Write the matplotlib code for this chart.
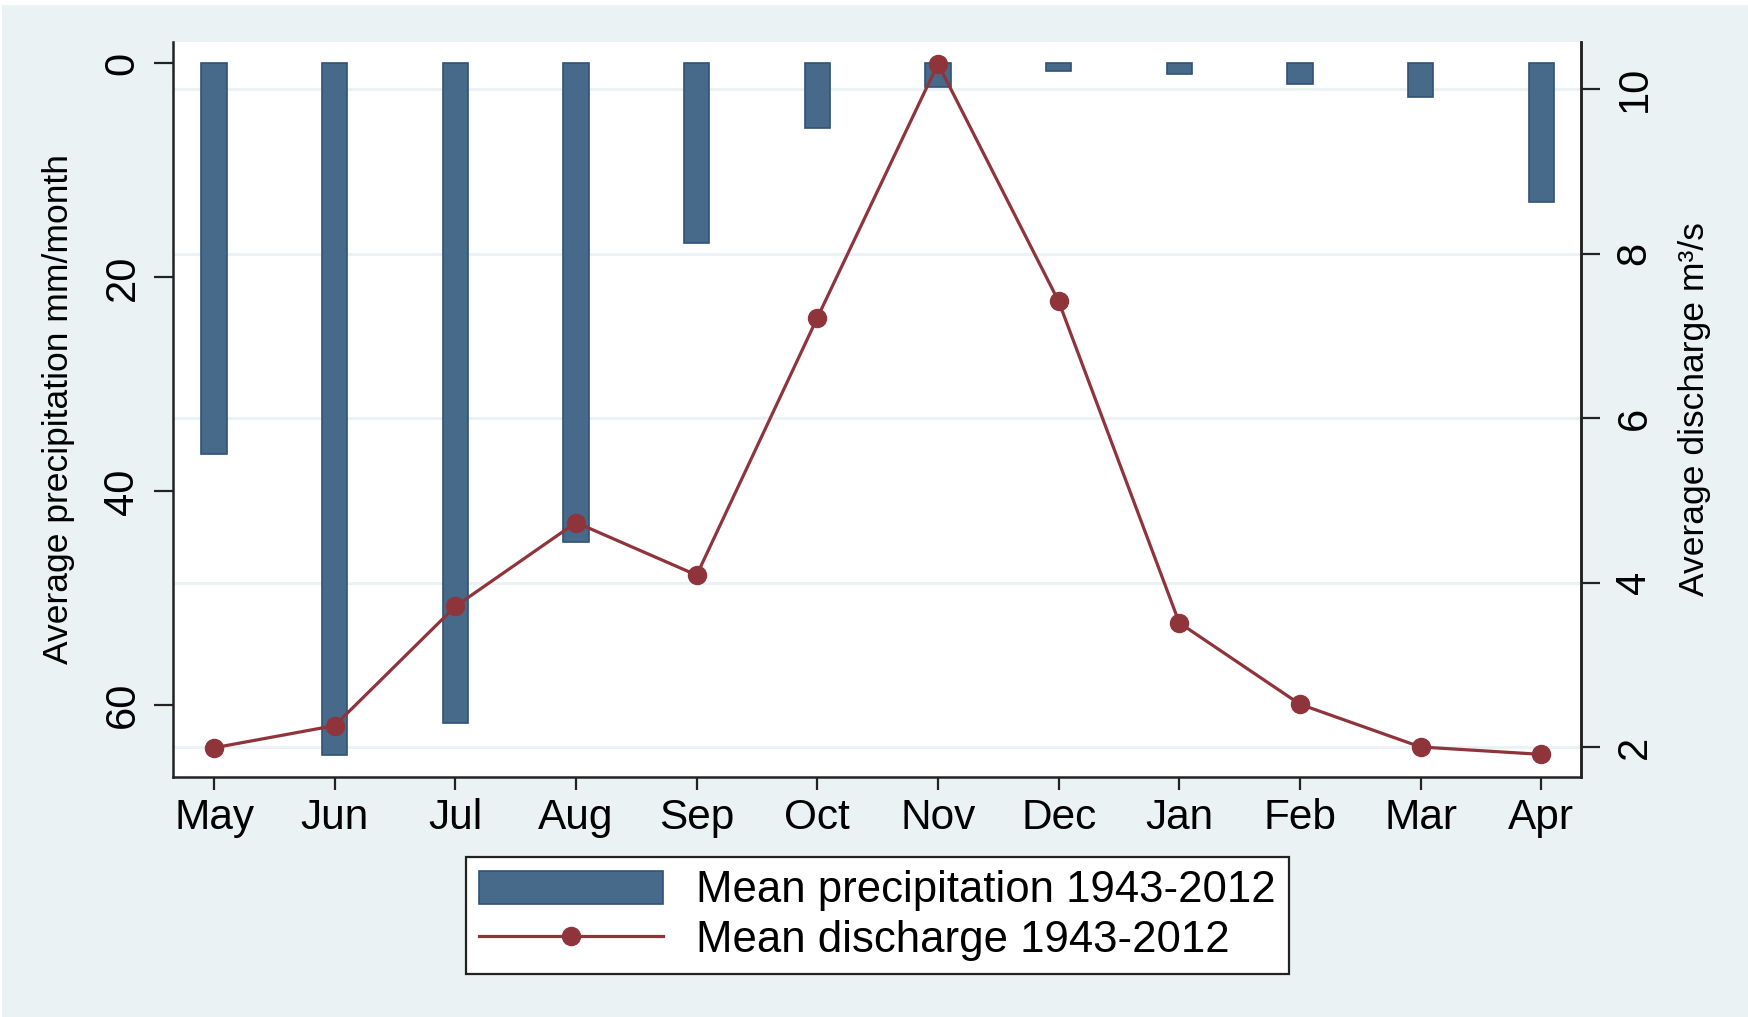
import numpy as np
import matplotlib
matplotlib.use("Agg")
import matplotlib.pyplot as plt
import matplotlib.transforms as mtransforms
from matplotlib.patches import Rectangle

# Werte
months = ["May", "Jun", "Jul", "Aug", "Sep", "Oct", "Nov", "Dec", "Jan", "Feb", "Mar", "Apr"]
precip = [36.5, 64.6, 61.7, 44.7, 16.8, 6.0, 2.2, 0.7, 1.0, 1.9, 3.1, 13.0]
discharge = [1.99, 2.26, 3.71, 4.73, 4.09, 7.22, 10.31, 7.42, 3.51, 2.52, 2.0, 1.91]
left_ticks = [0, 20, 40, 60]
right_ticks = [2, 4, 6, 8, 10]

bg = "#eaf2f3"
bar_col = "#476a8b"
bar_edge = "#2f5377"
line_col = "#8f343b"

plt.rcParams["font.family"] = ["Liberation Sans", "DejaVu Sans"]

fig = plt.figure(figsize=(17.48, 10.17), dpi=100, facecolor="white")
fig.patches.append(Rectangle((0.001, 0), 0.999, 0.995, transform=fig.transFigure,
                             facecolor=bg, edgecolor="none", zorder=-10))

ax = fig.add_axes([0.099, 0.236, 0.8055, 0.7227])
ax2 = ax.twinx()

x = np.arange(len(months))

# Balken (linke Achse, invertiert)
ax.bar(x, precip, width=0.21, color=bar_col, edgecolor=bar_edge, linewidth=1.2,
       zorder=3, label="Mean precipitation 1943-2012")
ax.set_ylim(66.7, -2.0)
ax.set_xlim(-0.34, 11.33)
ax.set_yticks(left_ticks)
ax.set_xticks(x)
ax.set_xticklabels(months)

# Linie (rechte Achse)
ax2.plot(x, discharge, color=line_col, linewidth=2.3, marker="o", markersize=13,
         zorder=4, label="Mean discharge 1943-2012")
ax2.set_ylim(1.635, 10.574)
ax2.set_yticks(right_ticks)

# Gitterlinien der rechten Achse hinter den Balken
trans = mtransforms.blended_transform_factory(ax.transAxes, ax2.transData)
for v in right_ticks:
    ax.plot([0, 1], [v, v], transform=trans, color=bg, linewidth=2.2, zorder=1)

ax.set_facecolor("white")
ax.spines["top"].set_visible(False)
for s in ["top", "left", "bottom"]:
    ax2.spines[s].set_visible(False)
for a in (ax, ax2):
    for s in a.spines.values():
        s.set_linewidth(1.8)
        s.set_color("#222222")

ax.tick_params(axis="x", length=9, width=1.6, pad=6, labelsize=30.5, color="#222222")
ax.tick_params(axis="y", length=14, width=1.6, pad=8, labelsize=30, labelrotation=90,
               color="#222222")
ax2.tick_params(axis="y", length=14, width=1.6, pad=10, labelsize=30, labelrotation=90,
                color="#222222")
for lab in ax.get_yticklabels() + ax2.get_yticklabels():
    lab.set_verticalalignment("center")

ax.set_ylabel("Average precipitation mm/month", fontsize=25.5)
ax.yaxis.set_label_coords(-0.0696, 0.5)
ax2.set_ylabel("Average discharge m³/s", fontsize=25.5, rotation=90)
ax2.yaxis.set_label_coords(1.069, 0.5)

h1, l1 = ax.get_legend_handles_labels()
h2, l2 = ax2.get_legend_handles_labels()
leg = fig.legend(h1 + h2, l1 + l2, loc="upper center", bbox_to_anchor=(0.502, 0.157),
                 fontsize=31.5, frameon=True, fancybox=False, edgecolor="#222222",
                 framealpha=1, handlelength=4.2, handleheight=0.8, handletextpad=0.75,
                 labelspacing=0.2, borderpad=0.3, borderaxespad=0, numpoints=1)
leg.get_frame().set_linewidth(1.6)

fig.savefig("out.png", dpi=100, facecolor=fig.get_facecolor())
